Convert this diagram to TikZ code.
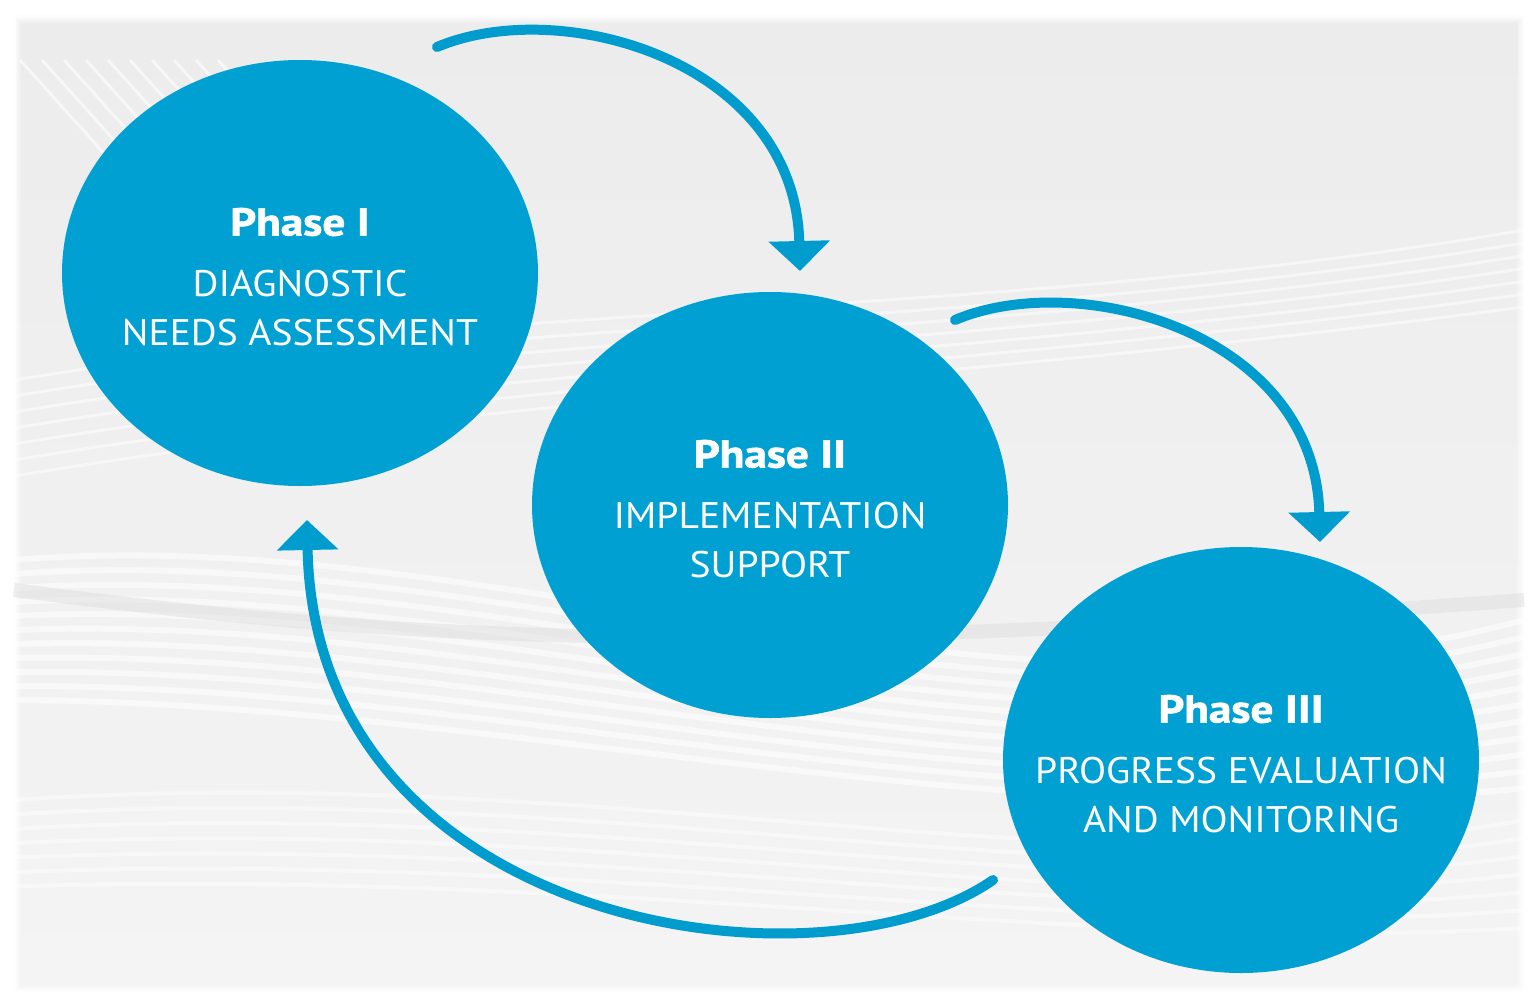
\documentclass[tikz,border=0pt]{standalone}
\usepackage{fontspec}
\setmainfont{PT Sans}
\newfontfamily\heavyfont{PT Sans}[BoldFeatures={FakeBold=1.6}]
\usetikzlibrary{shapes.geometric,arrows.meta}
\definecolor{phaseblue}{RGB}{0,160,210}
\definecolor{arrowblue}{RGB}{0,156,206}
\definecolor{panelgray}{RGB}{236,236,237}
\definecolor{panellight}{RGB}{244,244,245}
\newcommand{\phasetitle}[1]{\scalebox{1.16}[1]{\fontsize{39}{49}\selectfont\heavyfont\bfseries #1}}
\newcommand{\phaseline}[1]{\scalebox{1.07}[1]{#1}}
\begin{document}
\begin{tikzpicture}[x=1pt,y=-1pt,
  phase/.style={ellipse, fill=phaseblue, minimum width=476pt, minimum height=426pt,
    inner sep=0pt},
  phasetext/.style={text=white, align=center, inner sep=0pt, font=\fontsize{37}{49}\selectfont},
  conn/.style={draw=arrowblue, line width=10pt, line cap=round,
    -{Triangle[width=60pt,length=30pt]}},
  wave/.style={draw=white, line width=6pt, opacity=0.55},
  streak/.style={draw=white, line width=3pt, opacity=0.6}]
\useasboundingbox (0,0) rectangle (1537,1006);
% background
\fill[white] (0,0) rectangle (1537,1006);
\shade[top color=panelgray, bottom color=panellight] (14,16) rectangle (1524,992);
\foreach \w/\o in {14/0.25,10/0.35,6/0.5,3/0.7}
  \draw[white, line width=\w pt, opacity=\o] (14,16) rectangle (1524,992);
% diagonal streaks top-left
\foreach \i in {0,...,9}
  \draw[streak] (20+\i*22,60) -- (200+\i*22,260);
% waves
\foreach \d in {0,14,...,140}
  \draw[wave] (14,560+\d) .. controls (500,520+\d*1.3) and (1000,760+\d*0.6) .. (1524,620+\d*1.2);
\foreach \d in {0,18,...,108}
  \draw[wave, line width=4pt, opacity=0.45] (14,800+\d*0.8) .. controls (600,760+\d) and (1100,900+\d*0.5) .. (1524,820+\d);
\draw[draw=gray!25, line width=14pt, opacity=0.5] (14,590) .. controls (400,640) and (700,660) .. (1524,600);
\foreach \d in {0,16,...,96}
  \draw[wave, line width=3pt, opacity=0.5] (14,380+\d) .. controls (500,300+\d) and (1000,320+\d*0.6) .. (1524,230+\d*0.8);
% phases
\node[phase] (p1) at (300,273) {};
\node[phase] (p2) at (770,505) {};
\node[phase] (p3) at (1241,760) {};
\node[phasetext] (t1) at ([yshift=-4pt]p1.center) {\phasetitle{Phase I}\\[12pt]\phaseline{DIAGNOSTIC}\\\phaseline{NEEDS ASSESSMENT}};
\node[phasetext] (t2) at ([yshift=-4pt]p2.center) {\phasetitle{Phase II}\\[12pt]\phaseline{IMPLEMENTATION}\\\phaseline{SUPPORT}};
\node[phasetext] (t3) at ([yshift=-4pt]p3.center) {\phasetitle{Phase III}\\[12pt]\phaseline{PROGRESS EVALUATION}\\\phaseline{AND MONITORING}};
% connectors
\coordinate (a1s) at (437,47);
\coordinate (a1e) at (800,271);
\coordinate (a2s) at (955,320);
\coordinate (a2e) at (1320,542);
\coordinate (a3s) at (993,880);
\coordinate (a3e) at (307,520);
\draw[conn] (a1s) .. controls (560,-5) and (795,60) .. (a1e);
\draw[conn] (a2s) .. controls (1078,268) and (1315,332) .. (a2e);
\draw[conn] (a3s) .. controls (820,1000) and (315,930) .. (a3e);
\end{tikzpicture}
\end{document}
